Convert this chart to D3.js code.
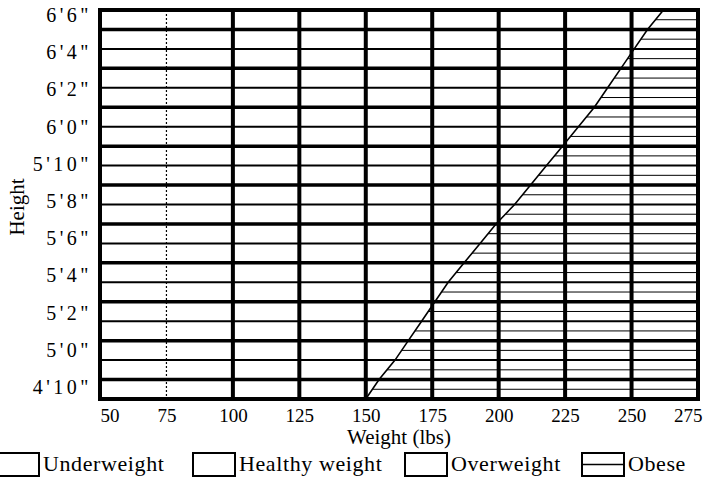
<!DOCTYPE html>
<html><head><meta charset="utf-8">
<script src="https://cdn.jsdelivr.net/npm/d3@7"></script>
<style>
body{margin:0;background:#fff}
svg{display:block}
text{font-family:"Liberation Serif","DejaVu Serif",serif;fill:#000}
</style>
</head><body>
<svg id="c" width="722" height="487"></svg>
<script>
// Heights in inches (4'10" .. 6'6")
const heights = [58,59,60,61,62,63,64,65,66,67,68,69,70,71,72,73,74,75,76,77,78];
// Category upper boundaries (lbs) for each height, read/estimated from the chart
const underweightMax = [89,92,95,98,101,104,108,111,115,118,122,125,129,132,136,140,144,148,152,156,160];
const healthyMax     = [119,124,128,132,136,141,145,150,155,159,164,169,174,179,184,189,194,200,205,210,216];
const overweightMax  = [150,155,161,166,171,176,181,187,193,199,206,212,218,224,230,236,241,246,251,256,262];
const weightStart = 50, weightEnd = 275;
const categories = ["Underweight","Healthy weight","Overweight","Obese"];
const weightTicks = [50,75,100,125,150,175,200,225,250,275];
const heightTicks = [58,60,62,64,66,68,70,72,74,76,78];
const heightTickLabels = ["4'10\"","5'0\"","5'2\"","5'4\"","5'6\"","5'8\"","5'10\"","6'0\"","6'2\"","6'4\"","6'6\""];

const svg = d3.select("#c");
const x = d3.scaleLinear().domain([weightStart, weightEnd]).range([100, 698]);
const y = d3.scaleLinear().domain([58, 78]).range([399, 10]);
const yLab = d3.scaleLinear().domain([58, 78]).range([387, 15]);

const rows = heights.map((h, i) => ({
  h,
  b: [weightStart, underweightMax[i], healthyMax[i], overweightMax[i], weightEnd]
}));

const area = k => d3.area()
  .y(d => y(d.h))
  .x0(d => x(d.b[k]))
  .x1(d => x(d.b[k + 1]));

const fills = ["#ffffff", "#ffffff", "#ffffff", "#ffffff"];
const g = svg.append("g");
categories.forEach((c, k) => {
  g.append("path").datum(rows).attr("d", area(k)).attr("fill", fills[k]).attr("stroke", "none");
});

// clip for obese texture
svg.append("clipPath").attr("id", "ob").append("path").datum(rows).attr("d", area(3));
const tex = svg.append("g").attr("clip-path", "url(#ob)");
heights.slice(0, -1).forEach(h => {
  tex.append("line").attr("x1", x(weightStart)).attr("x2", x(weightEnd))
    .attr("y1", y(h + 0.5)).attr("y2", y(h + 0.5))
    .attr("stroke", "#000").attr("stroke-width", 1);
});

// obese boundary
svg.append("path").datum(rows)
  .attr("d", d3.line().y(d => y(d.h)).x(d => x(d.b[3])))
  .attr("fill", "none").attr("stroke", "#000").attr("stroke-width", 1.6);

// horizontal grid lines at each inch
svg.append("g").selectAll("line").data(heights).join("line")
  .attr("x1", x(weightStart)).attr("x2", x(weightEnd))
  .attr("y1", d => y(d)).attr("y2", d => y(d))
  .attr("stroke", "#000").attr("stroke-width", (d, i) => (i % 2 ? 3.5 : 2));

// vertical grid lines
svg.append("g").selectAll("line").data(weightTicks.slice(1, -1)).join("line")
  .attr("x1", d => x(d)).attr("x2", d => x(d))
  .attr("y1", y(78)).attr("y2", y(58))
  .attr("stroke", "#000")
  .attr("stroke-width", d => d === 75 ? 1.2 : 4)
  .attr("stroke-dasharray", d => d === 75 ? "2,2" : null);

// frame
svg.append("rect").attr("x", x(weightStart)).attr("y", y(78))
  .attr("width", x(weightEnd) - x(weightStart)).attr("height", y(58) - y(78))
  .attr("fill", "none").attr("stroke", "#000").attr("stroke-width", 4);

// x axis
const xa = svg.append("g").attr("transform", `translate(0,${y(58)})`)
  .call(d3.axisBottom(x).tickValues(weightTicks).tickSize(0).tickPadding(10));
xa.select(".domain").remove();
xa.selectAll("text").style("font-size", "19px").style("font-family", "Liberation Serif");
xa.selectAll(".tick text").filter(d => d === weightStart).attr("text-anchor", "start").attr("dx", 0);
xa.selectAll(".tick text").filter(d => d === weightEnd).attr("text-anchor", "end").attr("dx", 4);

// y axis
const ya = svg.append("g").attr("transform", `translate(94,0)`)
  .call(d3.axisLeft(yLab).tickValues(heightTicks)
    .tickFormat((d, i) => heightTickLabels[i]).tickSize(0).tickPadding(2));
ya.select(".domain").remove();
ya.selectAll("text").style("font-size", "20px").style("font-family", "Liberation Serif")
  .attr("letter-spacing", "3.5px");

// axis titles
svg.append("text").attr("x", (x(weightStart) + x(weightEnd)) / 2).attr("y", 444)
  .attr("text-anchor", "middle").style("font-size", "21px").text("Weight (lbs)");
svg.append("text").attr("transform", "translate(24,207) rotate(-90)")
  .attr("text-anchor", "middle").style("font-size", "21px").text("Height");

// legend
const legX = [-3, 193, 405, 582];
const lg = svg.append("g");
categories.forEach((c, k) => {
  const gi = lg.append("g").attr("transform", `translate(${legX[k]},453)`);
  gi.append("rect").attr("width", 42).attr("height", 23)
    .attr("fill", fills[k]).attr("stroke", "#000").attr("stroke-width", 2);
  if (k === 3) {
    gi.append("line").attr("x1", 0).attr("x2", 42).attr("y1", 11.5).attr("y2", 11.5)
      .attr("stroke", "#000").attr("stroke-width", 1.5);
  }
  gi.append("text").attr("x", 46).attr("y", 18).style("font-size", "22px")
    .attr("letter-spacing", "0.6px").text(c);
});
</script>
</body></html>
